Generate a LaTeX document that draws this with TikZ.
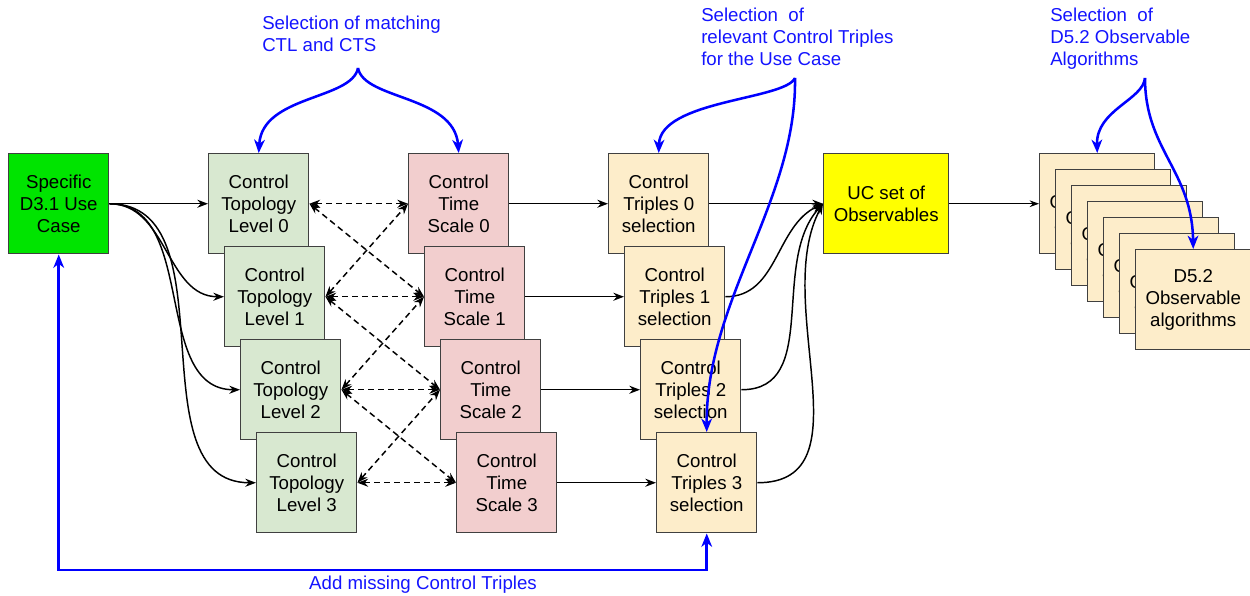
\documentclass[tikz,border=0pt]{standalone}
\usepackage{fontspec}
\setmainfont{Liberation Sans}
\usepackage{tikz}
\usetikzlibrary{arrows.meta}

\begin{document}
\begin{tikzpicture}[x=0.75pt,y=0.75pt,yscale=-1,xscale=1,
  font=\fontsize{14}{16.5}\selectfont,
  box/.style={draw={rgb, 255:red, 64; green, 64; blue, 64}, line width=1.1pt, anchor=north west, inner sep=0pt, minimum width=75pt, minimum height=75pt, align=center},
  usecase/.style={box, fill={rgb, 255:red, 0; green, 228; blue, 0}},
  topo/.style={box, fill={rgb, 255:red, 216; green, 232; blue, 208}},
  tscale/.style={box, fill={rgb, 255:red, 242; green, 206; blue, 206}},
  triple/.style={box, fill={rgb, 255:red, 253; green, 237; blue, 202}},
  obsset/.style={box, fill={rgb, 255:red, 255; green, 255; blue, 0}, minimum width=93.75pt},
  algo/.style={triple, minimum width=86.25pt},
  note/.style={anchor=north west, inner sep=0pt, align=left, text={rgb, 255:red, 20; green, 20; blue, 255}},
  flow/.style={line width=1.1pt, -{Stealth[length=8pt,width=6pt]}},
  link/.style={line width=1.1pt, dash pattern=on 4.5pt off 3pt, {Stealth[length=8pt,width=6pt]}-{Stealth[length=8pt,width=6pt]}},
  pick/.style={color={rgb, 255:red, 0; green, 0; blue, 255}, line width=1.9pt, -{Stealth[length=10pt,width=8pt,inset=3pt]}}]

\useasboundingbox (0,0) rectangle (1250,596);

% Use case
\node (uc) [usecase] at (8,153) {Specific\\D3.1 Use\\Case};
% Control topology levels
\node (ctl0) [topo] at (208,153) {Control\\Topology\\Level 0};
\node (ctl1) [topo] at (224,246) {Control\\Topology\\Level 1};
\node (ctl2) [topo] at (240,339) {Control\\Topology\\Level 2};
\node (ctl3) [topo] at (256,432) {Control\\Topology\\Level 3};
% Control time scales
\node (cts0) [tscale] at (408,153) {Control\\Time\\Scale 0};
\node (cts1) [tscale] at (424,246) {Control\\Time\\Scale 1};
\node (cts2) [tscale] at (440,339) {Control\\Time\\Scale 2};
\node (cts3) [tscale] at (456,432) {Control\\Time\\Scale 3};
% Control triples
\node (ct0) [triple] at (608,153) {Control\\Triples 0\\selection};
\node (ct1) [triple] at (624,246) {Control\\Triples 1\\selection};
\node (ct2) [triple] at (640,339) {Control\\Triples 2\\selection};
\node (ct3) [triple] at (656,432) {Control\\Triples 3\\selection};
% Observables
\node (obs) [obsset] at (823,153) {UC set of\\Observables};
% Algorithm stack
\node (alg0) [algo] at (1039,153) {D5.2\\Observable\\algorithms};
\node (alg1) [algo] at (1055,169) {D5.2\\Observable\\algorithms};
\node (alg2) [algo] at (1071,185) {D5.2\\Observable\\algorithms};
\node (alg3) [algo] at (1087,201) {D5.2\\Observable\\algorithms};
\node (alg4) [algo] at (1103,217) {D5.2\\Observable\\algorithms};
\node (alg5) [algo] at (1119,233) {D5.2\\Observable\\algorithms};
\node (alg6) [algo] at (1135,249) {D5.2\\Observable\\algorithms};

% Connection
\draw [flow] (uc.east) -- (ctl0.west);
\draw [flow] (uc.east) to[out=0,in=180] (ctl1.west);
\draw [flow] (uc.east) to[out=0,in=180] (ctl2.west);
\draw [flow] (uc.east) to[out=0,in=180] (ctl3.west);
% Connection
\draw [link] (ctl0.east) -- (cts0.west);
\draw [link] (ctl1.east) -- (cts1.west);
\draw [link] (ctl2.east) -- (cts2.west);
\draw [link] (ctl3.east) -- (cts3.west);
\draw [link] (ctl0.east) -- (cts1.west);
\draw [link] (ctl1.east) -- (cts0.west);
\draw [link] (ctl1.east) -- (cts2.west);
\draw [link] (ctl2.east) -- (cts1.west);
\draw [link] (ctl2.east) -- (cts3.west);
\draw [link] (ctl3.east) -- (cts2.west);
% Connection
\draw [flow] (cts0.east) -- (ct0.west);
\draw [flow] (cts1.east) -- (ct1.west);
\draw [flow] (cts2.east) -- (ct2.west);
\draw [flow] (cts3.east) -- (ct3.west);
% Connection
\draw [flow] (ct0.east) -- (obs.west);
\draw [flow] (ct1.east) to[out=0,in=155] (obs.west);
\draw [flow] (ct2.east) to[out=0,in=132] (obs.west);
\draw [flow] (ct3.east) to[out=0,in=118] (obs.west);
% Connection
\draw [flow, line width=0.8pt, -{Stealth[length=7pt,width=5pt]}] (obs.east) -- (alg0.west);

% Text Node
\node (selctl) [note] at (262,16) {Selection of matching\\CTL and CTS};
\node (selct) [note] at (701,8) {Selection~ of\\relevant Control Triples\\for the Use Case};
\node (selalg) [note] at (1050,8) {Selection~ of\\D5.2 Observable\\Algorithms};
\node (addct) [note, anchor=north] at (423,576) {Add missing Control Triples};

% Braces
\coordinate (tipctl) at (358,68);
\coordinate (tipct) at (795,78);
\coordinate (tipalg) at (1145,78);
\draw [pick] (tipctl) .. controls (352,100) and (262,95) .. (ctl0.north);
\draw [pick] (tipctl) .. controls (364,100) and (454,95) .. (cts0.north);
\draw [pick] (tipct) .. controls (785,100) and (660,100) .. (ct0.north);
\draw [pick] (tipct) .. controls (797,200) and (706,300) .. (ct3.north);
\draw [pick] (tipalg) .. controls (1143,100) and (1096,110) .. (alg0.north);
\draw [pick] (tipalg) .. controls (1145,150) and (1192,170) .. (alg6.north);
% Feedback
\coordinate (loop) at (400,570);
\draw [pick, {Stealth[length=10pt,width=8pt,inset=3pt]}-{Stealth[length=10pt,width=8pt,inset=3pt]}] (uc.south) |- (loop) -| (ct3.south);
\end{tikzpicture}
\end{document}
